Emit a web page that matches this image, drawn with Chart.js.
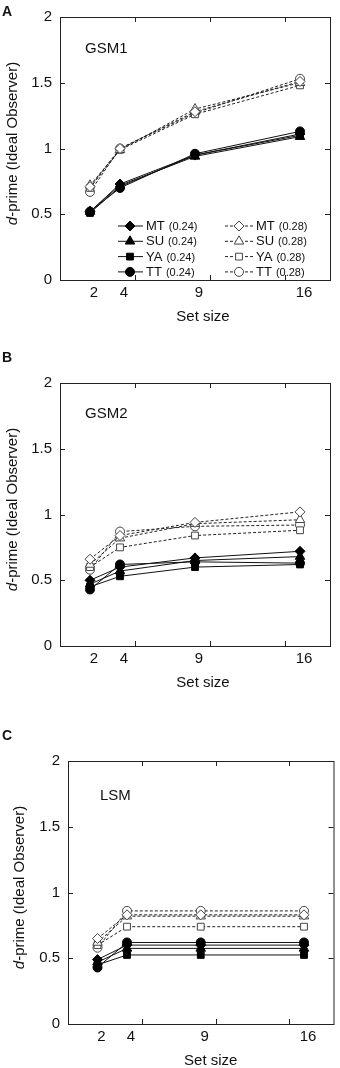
<!DOCTYPE html>
<html>
<head>
<meta charset="utf-8">
<script src="https://cdn.jsdelivr.net/npm/chart.js@4.4.1/dist/chart.umd.min.js"></script>
<style>
  html, body { margin: 0; padding: 0; background: #fff; }
  body { width: 340px; height: 1068px; position: relative; overflow: hidden; font-family: "Liberation Sans", Arial, sans-serif; }
  .panel { position: absolute; left: 0; width: 340px; }
  .letter { position: absolute; left: 2px; font-weight: bold; font-size: 14px; line-height: 14px; color: #111; }
</style>
</head>
<body>
<div class="panel" style="top:0px;height:340px"><canvas id="chartA" width="340" height="340"></canvas></div>
<div class="panel" style="top:366px;height:340px"><canvas id="chartB" width="340" height="340"></canvas></div>
<div class="panel" style="top:744px;height:324px"><canvas id="chartC" width="340" height="324"></canvas></div>
<div class="letter" style="top:4px">A</div>
<div class="letter" style="top:350px">B</div>
<div class="letter" style="top:728px">C</div>
<script>
const setSizes = [2, 4, 9, 16];
const subjects = ['MT', 'SU', 'YA', 'TT'];
const thresholds = ['(0.24)', '(0.28)'];
const yTickValues = [0, 0.5, 1, 1.5, 2];
const xTickMarks = [5, 10, 15];

// rows follow subjects: MT, SU, YA, TT
const gsm1Low = [
  [0.52, 0.73, 0.95, 1.11],
  [0.52, 0.72, 0.94, 1.09],
  [0.51, 0.71, 0.95, 1.10],
  [0.52, 0.70, 0.96, 1.13]
];
const gsm1High = [
  [0.71, 1.00, 1.28, 1.51],
  [0.72, 0.99, 1.30, 1.50],
  [0.70, 0.99, 1.26, 1.48],
  [0.67, 1.00, 1.27, 1.53]
];
const gsm2Low = [
  [0.50, 0.60, 0.67, 0.72],
  [0.47, 0.57, 0.65, 0.68],
  [0.45, 0.53, 0.60, 0.62],
  [0.43, 0.62, 0.64, 0.63]
];
const gsm2High = [
  [0.66, 0.84, 0.94, 1.02],
  [0.62, 0.82, 0.93, 0.96],
  [0.60, 0.75, 0.84, 0.88],
  [0.58, 0.87, 0.91, 0.92]
];
const lsmLow = [
  [0.49, 0.60, 0.60, 0.60],
  [0.47, 0.575, 0.575, 0.575],
  [0.45, 0.525, 0.525, 0.525],
  [0.43, 0.62, 0.62, 0.62]
];
const lsmHigh = [
  [0.65, 0.83, 0.83, 0.83],
  [0.62, 0.82, 0.82, 0.82],
  [0.60, 0.74, 0.74, 0.74],
  [0.58, 0.86, 0.86, 0.86]
];

const FONT = '"Liberation Sans", Arial, sans-serif';
const markerStyle = { MT: 'rectRot', SU: 'triangle', YA: 'rect', TT: 'circle' };
const markerSize = { MT: 5, SU: 5.5, YA: 4.8, TT: 4.5 };

function buildDatasets(low, high) {
  const out = [];
  subjects.forEach((s, i) => {
    out.push({
      subject: s, thr: thresholds[0],
      data: setSizes.map((x, j) => ({ x: x, y: low[i][j] })),
      borderColor: '#111', borderWidth: 1, tension: 0, fill: false,
      pointStyle: markerStyle[s], pointRadius: markerSize[s],
      pointBackgroundColor: '#000', pointBorderColor: '#000', pointBorderWidth: 1
    });
  });
  subjects.forEach((s, i) => {
    out.push({
      subject: s, thr: thresholds[1],
      data: setSizes.map((x, j) => ({ x: x, y: high[i][j] })),
      borderColor: '#222', borderWidth: 1, borderDash: [3, 2], tension: 0, fill: false,
      pointStyle: markerStyle[s], pointRadius: markerSize[s],
      pointBackgroundColor: '#fff', pointBorderColor: '#444', pointBorderWidth: 1
    });
  });
  return out;
}

const panelDecor = {
  id: 'panelDecor',
  afterDraw(chart, args, opts) {
    const ctx = chart.ctx;
    const a = chart.chartArea;
    const xs = chart.scales.x, ys = chart.scales.y;
    const tickLen = 5;
    ctx.save();
    ctx.setLineDash([]);
    ctx.strokeStyle = '#222';
    ctx.lineWidth = 1;
    ctx.strokeRect(a.left + 0.5, a.top + 0.5, a.right - a.left, a.bottom - a.top);
    ctx.beginPath();
    xTickMarks.forEach(v => {
      const px = Math.round(xs.getPixelForValue(v)) + 0.5;
      ctx.moveTo(px, a.bottom); ctx.lineTo(px, a.bottom - tickLen);
      ctx.moveTo(px, a.top); ctx.lineTo(px, a.top + tickLen);
    });
    yTickValues.forEach(v => {
      const py = Math.round(ys.getPixelForValue(v)) + 0.5;
      ctx.moveTo(a.left, py); ctx.lineTo(a.left + tickLen, py);
      ctx.moveTo(a.right, py); ctx.lineTo(a.right - tickLen, py);
    });
    ctx.stroke();

    ctx.fillStyle = '#111';
    ctx.textBaseline = 'middle';
    ctx.font = '15px ' + FONT;
    ctx.textAlign = 'left';
    ctx.fillText(opts.name, a.left + opts.nameDx, a.top + opts.nameDy);
    ctx.textAlign = 'center';
    ctx.fillText('Set size', (a.left + a.right) / 2 + opts.titleDx, a.bottom + 37);

    // y title with italic d
    ctx.save();
    ctx.translate(opts.yTitleX, (a.top + a.bottom) / 2 - 5);
    ctx.rotate(-Math.PI / 2);
    const italic = 'italic 15px ' + FONT, normal = '15px ' + FONT;
    const rest = '-prime (Ideal Observer)';
    ctx.font = italic; const w1 = ctx.measureText('d').width;
    ctx.font = normal; const w2 = ctx.measureText(rest).width;
    const start = -(w1 + w2) / 2;
    ctx.textAlign = 'left';
    ctx.font = italic; ctx.fillText('d', start, 0);
    ctx.font = normal; ctx.fillText(rest, start + w1, 0);
    ctx.restore();

    if (opts.legend) {
      const cols = [
        { x0: 58, x1: 83, mx: 70, tx: 86 },
        { x0: 165, x1: 193, mx: 179, tx: 196 }
      ];
      chart.data.datasets.forEach((ds, k) => {
        const c = cols[Math.floor(k / 4)];
        const y = a.top + 209 + (k % 4) * 15.3;
        ctx.lineWidth = 1;
        ctx.strokeStyle = ds.borderColor;
        ctx.setLineDash(ds.borderDash || []);
        ctx.beginPath();
        ctx.moveTo(a.left + c.x0, y); ctx.lineTo(a.left + c.x1, y);
        ctx.stroke();
        ctx.setLineDash([]);
        ctx.fillStyle = ds.pointBackgroundColor;
        ctx.strokeStyle = ds.pointBorderColor;
        Chart.helpers.drawPoint(ctx, {
          pointStyle: ds.pointStyle, radius: ds.pointRadius, rotation: 0, borderWidth: 1
        }, a.left + c.mx, y);
        ctx.fillStyle = '#111';
        ctx.textAlign = 'left';
        ctx.font = '13px ' + FONT;
        ctx.fillText(ds.subject, a.left + c.tx, y + 0.5);
        const ws = ctx.measureText(ds.subject).width;
        ctx.font = '11px ' + FONT;
        ctx.fillText(ds.thr, a.left + c.tx + ws + 4, y + 1);
      });
    }
    ctx.restore();
  }
};

function makePanel(id, low, high, deco, leftW, rightPad) {
  const canvas = document.getElementById(id);
  const bottomH = canvas.height - 280;
  return new Chart(canvas.getContext('2d'), {
    type: 'line',
    data: { datasets: buildDatasets(low, high) },
    options: {
      responsive: false,
      animation: false,
      devicePixelRatio: 1,
      layout: { padding: { top: 10, right: rightPad, left: 0, bottom: 0 } },
      plugins: { legend: { display: false }, tooltip: { enabled: false }, panelDecor: deco },
      scales: {
        x: {
          type: 'linear', min: 0, max: 18,
          afterBuildTicks: s => { s.ticks = setSizes.map(v => ({ value: v })); },
          afterFit: s => { s.height = bottomH; },
          grid: { display: false, drawTicks: false },
          border: { display: false },
          ticks: { padding: 4, labelOffset: 4, maxRotation: 0, autoSkip: false, color: '#111',
                   font: { size: 15, family: FONT }, callback: v => String(v) }
        },
        y: {
          min: 0, max: 2,
          afterBuildTicks: s => { s.ticks = yTickValues.map(v => ({ value: v })); },
          afterFit: s => { s.width = leftW; },
          grid: { display: false, drawTicks: false },
          border: { display: false },
          ticks: { padding: 8, color: '#111', font: { size: 15, family: FONT }, callback: v => String(v) }
        }
      }
    },
    plugins: [panelDecor]
  });
}

makePanel('chartA', gsm1Low, gsm1High,
  { name: 'GSM1', nameDx: 25, nameDy: 32, titleDx: 8, yTitleX: 13, legend: true }, 60, 10);
makePanel('chartB', gsm2Low, gsm2High,
  { name: 'GSM2', nameDx: 25, nameDy: 31, titleDx: 8, yTitleX: 13, legend: false }, 60, 10);
makePanel('chartC', lsmLow, lsmHigh,
  { name: 'LSM', nameDx: 32, nameDy: 35, titleDx: 10, yTitleX: 20, legend: false }, 68, 2);
</script>
</body>
</html>
